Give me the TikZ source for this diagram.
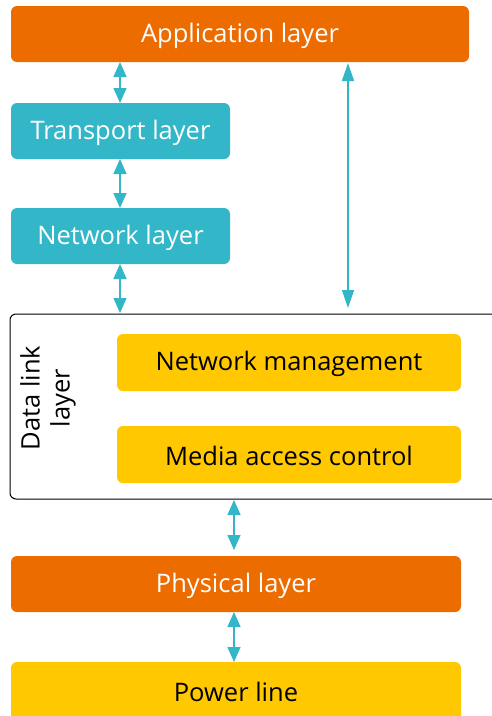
\documentclass[tikz,border=0pt]{standalone}
\usepackage{fontspec}
\setmainfont{Open Sans}
\usetikzlibrary{arrows.meta}
\definecolor{horange}{HTML}{EC6C00}
\definecolor{hteal}{HTML}{33B7C8}
\definecolor{hyellow}{HTML}{FFC800}
\tikzset{
  lbl/.style={inner sep=0pt, yshift=-2pt, font=\fontsize{25.5}{30}\selectfont},
  orangebox/.style={rounded corners=6pt, fill=horange},
  tealbox/.style={rounded corners=6pt, fill=hteal},
  yellowbox/.style={rounded corners=6pt, fill=hyellow},
  dbl/.style={hteal, line width=1.6pt, {Triangle[width=13pt,length=15pt]}-{Triangle[width=13pt,length=15pt]}},
}
\begin{document}
\begin{tikzpicture}[x=1pt,y=-1pt]
\useasboundingbox (0,0) rectangle (492,716);
% frames / boxes
\draw[rounded corners=6pt, line width=1pt] (10,314) rectangle (500,499);
\path[orangebox] (11,6) rectangle (469,62);
\node[lbl, text=white] (app) at (240,34) {Application layer};
\path[tealbox] (11,103) rectangle (230,159);
\node[lbl, text=white] (trans) at (120.5,131) {Transport layer};
\path[tealbox] (11,208) rectangle (230,264);
\node[lbl, text=white] (net) at (120.5,236) {Network layer};
\path[yellowbox] (117,334) rectangle (461,391);
\node[lbl] (nm) at (289,362) {Network management};
\path[yellowbox] (117,426) rectangle (461,483);
\node[lbl] (mac) at (289,454) {Media access control};
\node[lbl, rotate=90, align=center, yshift=2pt] (dll) at (50,396) {Data link\\layer};
\path[orangebox] (11,556) rectangle (461,612);
\node[lbl, text=white] (phy) at (236,584) {Physical layer};
\path[yellowbox] (11,662) rectangle (461,730);
\node[lbl] (pow) at (236,690) {Power line};
% anchor coordinates
\coordinate (a1) at (120,62); \coordinate (a2) at (120,103);
\coordinate (b1) at (120,159); \coordinate (b2) at (120,208);
\coordinate (c1) at (120,264); \coordinate (c2) at (120,313);
\coordinate (d1) at (348,63); \coordinate (d2) at (348,308);
\coordinate (e1) at (234,500); \coordinate (e2) at (234,550);
\coordinate (f1) at (234,612); \coordinate (f2) at (234,662);
\draw[dbl] (a1) -- (a2);
\draw[dbl] (b1) -- (b2);
\draw[dbl] (c1) -- (c2);
\draw[hteal, line width=1.6pt, {Triangle[width=12pt,length=18pt]}-{Triangle[width=12pt,length=18pt]}] (d1) -- (d2);
\draw[dbl] (e1) -- (e2);
\draw[dbl] (f1) -- (f2);
\end{tikzpicture}
\end{document}
